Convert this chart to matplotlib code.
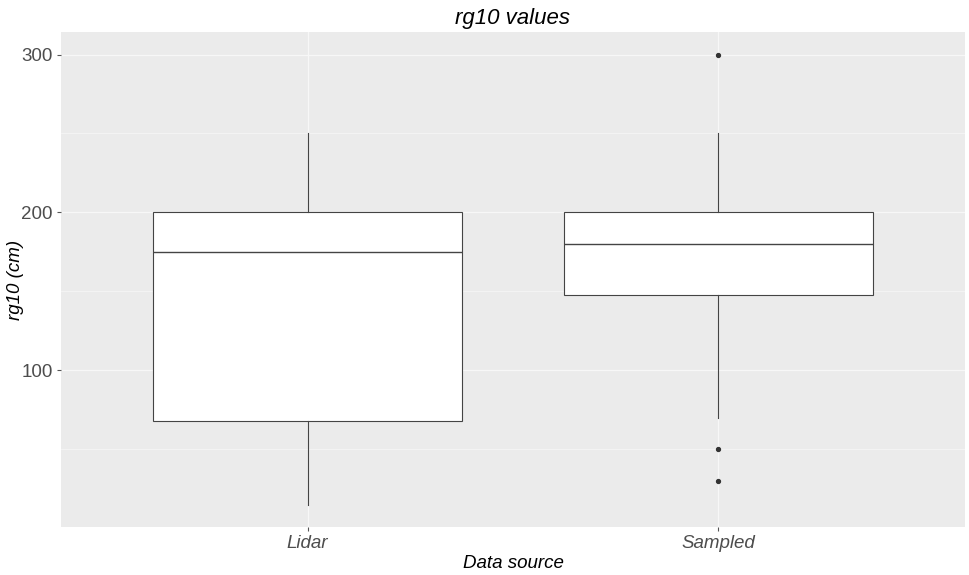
import matplotlib
matplotlib.use("Agg")
import matplotlib.pyplot as plt

plt.rcParams['font.family'] = ['Liberation Sans', 'DejaVu Sans']

categories = ["Lidar", "Sampled"]
whisker_low = [15, 70]
q1 = [68, 148]
median = [175, 180]
q3 = [200, 200]
whisker_high = [250, 250]
outliers = [[], [300, 50, 30]]

fig = plt.figure(figsize=(9.7, 5.75), dpi=100)
ax = fig.add_axes([61/970, 1-527/575, (965-61)/970, (527-32)/575])
ax.set_facecolor("#EBEBEB")

stats = []
for i, c in enumerate(categories):
    stats.append(dict(label=c, whislo=whisker_low[i], q1=q1[i], med=median[i],
                      q3=q3[i], whishi=whisker_high[i], fliers=outliers[i]))

ax.bxp(stats, positions=[1, 2], widths=0.75, patch_artist=True, showcaps=False,
       boxprops=dict(facecolor="white", edgecolor="#444444", linewidth=0.8),
       medianprops=dict(color="#444444", linewidth=1.0),
       whiskerprops=dict(color="#444444", linewidth=0.8),
       flierprops=dict(marker="o", markerfacecolor="#333333", markeredgecolor="#333333",
                       markersize=2.8, linestyle="none"), zorder=3)

ax.set_xlim(0.4, 2.6)
ax.set_ylim(0.75, 314.25)
ax.set_yticks([100, 200, 300])
ax.set_yticks([50, 150, 250], minor=True)
ax.set_xticks([1, 2])
ax.set_xticklabels(categories, fontstyle="italic")
ax.grid(True, which="major", color="#F7F7F7", linewidth=0.9, zorder=0)
ax.grid(True, which="minor", axis="y", color="#F7F7F7", linewidth=0.5, zorder=0)
ax.set_axisbelow(True)
for s in ax.spines.values():
    s.set_visible(False)
ax.tick_params(which="major", length=3, color="#555555", labelcolor="#4D4D4D",
               labelsize=13.5, pad=3)
ax.tick_params(which="minor", length=0)

ax.set_title("rg10 values", fontstyle="italic", fontsize=16, pad=6)
ax.set_xlabel("Data source", fontstyle="italic", fontsize=13.5, labelpad=2)
ax.set_ylabel("rg10 (cm)", fontstyle="italic", fontsize=13.5)
ax.yaxis.set_label_coords(-37/904, 0.5)

fig.savefig("out.png", dpi=100)
